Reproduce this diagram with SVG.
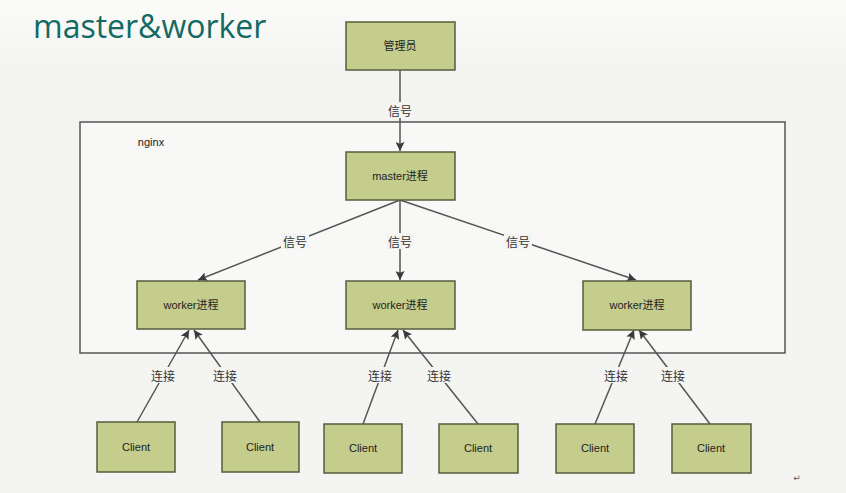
<svg xmlns="http://www.w3.org/2000/svg" width="846" height="493" viewBox="0 0 846 493">
<defs>
<linearGradient id="bg" x1="0" y1="0" x2="0" y2="1">
<stop offset="0" stop-color="#fbfbfa"/>
<stop offset="0.15" stop-color="#f3f3f1"/>
<stop offset="1" stop-color="#f4f4f2"/>
</linearGradient>
<marker id="arr" viewBox="0 0 10 10" refX="10" refY="5" markerWidth="9" markerHeight="9" markerUnits="userSpaceOnUse" orient="auto">
<path d="M0,0 L10,5 L0,10 L2,5 Z" fill="#3a3a3a"/>
</marker>
</defs>
<style>
.box{fill:#c5cd8c;stroke:#555d3e;stroke-width:1.5}
.t{font-family:"Liberation Sans","Noto Sans CJK SC",sans-serif;font-size:11px;fill:#222;text-anchor:middle;dominant-baseline:central}
.lbl{font-family:"Noto Sans CJK SC",sans-serif;font-size:12px;fill:#333;text-anchor:middle;dominant-baseline:central}
.lb{fill:#f4f4f2}
.ln{stroke:#555;stroke-width:1.5;fill:none;marker-end:url(#arr)}
</style>
<rect width="846" height="493" fill="url(#bg)"/>
<text x="33" y="38" font-family="'Open Sans',sans-serif" font-size="32" fill="#136a63">master&amp;worker</text>
<g id="nginx">
<rect x="80" y="122" width="705" height="231" fill="#f8f8f6" stroke="#555" stroke-width="1.5"/>
<text x="151" y="142" class="t" font-size="10">nginx</text>
</g>
<g id="connectors">
<line class="ln" x1="400" y1="70" x2="400" y2="151"/>
<line class="ln" x1="400" y1="200" x2="198" y2="280"/>
<line class="ln" x1="400" y1="200" x2="400" y2="280"/>
<line class="ln" x1="400" y1="200" x2="636" y2="280"/>
<line class="ln" x1="137" y1="422" x2="189" y2="330"/>
<line class="ln" x1="260" y1="422" x2="194" y2="330"/>
<line class="ln" x1="363" y1="424" x2="398" y2="330"/>
<line class="ln" x1="478" y1="424" x2="403" y2="330"/>
<line class="ln" x1="595" y1="424" x2="634" y2="330"/>
<line class="ln" x1="710" y1="424" x2="639" y2="330"/>
<rect class="lb" x="386" y="102" width="28" height="16"/>
<text class="lbl" x="400" y="110">信号</text>
<rect class="lb" x="281" y="233" width="28" height="16" fill="#f7f7f5"/>
<text class="lbl" x="295" y="241">信号</text>
<rect class="lb" x="386" y="233" width="28" height="16" fill="#f7f7f5"/>
<text class="lbl" x="400" y="241">信号</text>
<rect class="lb" x="504" y="233" width="28" height="16" fill="#f7f7f5"/>
<text class="lbl" x="518" y="241">信号</text>
<rect class="lb" x="149" y="367" width="28" height="16"/>
<text class="lbl" x="163" y="375">连接</text>
<rect class="lb" x="211" y="367" width="28" height="16"/>
<text class="lbl" x="225" y="375">连接</text>
<rect class="lb" x="366" y="367" width="28" height="16"/>
<text class="lbl" x="380" y="375">连接</text>
<rect class="lb" x="425" y="367" width="28" height="16"/>
<text class="lbl" x="439" y="375">连接</text>
<rect class="lb" x="602" y="367" width="28" height="16"/>
<text class="lbl" x="616" y="375">连接</text>
<rect class="lb" x="659" y="367" width="28" height="16"/>
<text class="lbl" x="673" y="375">连接</text>
</g>
<g id="admin"><rect class="box" x="346" y="22" width="109" height="48"/><text class="t" x="400" y="46">管理员</text></g>
<g id="master"><rect class="box" x="346" y="152" width="109" height="48"/><text class="t" x="400" y="176">master进程</text></g>
<g id="worker1"><rect class="box" x="137" y="281" width="108" height="48"/><text class="t" x="191" y="305">worker进程</text></g>
<g id="worker2"><rect class="box" x="346" y="281" width="109" height="48"/><text class="t" x="400" y="305">worker进程</text></g>
<g id="worker3"><rect class="box" x="583" y="281" width="108" height="49"/><text class="t" x="637" y="305">worker进程</text></g>
<g id="client1"><rect class="box" x="97" y="422" width="78" height="50"/><text class="t" x="136" y="447">Client</text></g>
<g id="client2"><rect class="box" x="222" y="422" width="77" height="50"/><text class="t" x="260" y="447">Client</text></g>
<g id="client3"><rect class="box" x="324" y="424" width="78" height="49"/><text class="t" x="363" y="448">Client</text></g>
<g id="client4"><rect class="box" x="439" y="424" width="79" height="49"/><text class="t" x="478" y="448">Client</text></g>
<g id="client5"><rect class="box" x="556" y="424" width="78" height="49"/><text class="t" x="595" y="448">Client</text></g>
<g id="client6"><rect class="box" x="672" y="424" width="79" height="49"/><text class="t" x="711" y="448">Client</text></g>
<text x="797" y="481" font-family="'DejaVu Sans',sans-serif" font-size="9" fill="#555" text-anchor="middle">↵</text>
</svg>
